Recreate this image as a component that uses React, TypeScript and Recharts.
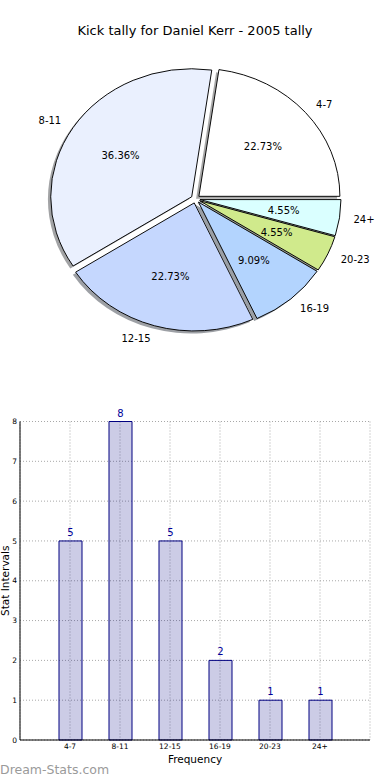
import React from 'react';
import { PieChart, Pie, Cell, BarChart, Bar, XAxis, YAxis, CartesianGrid, LabelList } from 'recharts';

const categories = ['4-7', '8-11', '12-15', '16-19', '20-23', '24+'];
const tally = [5, 8, 5, 2, 1, 1];
const yTicks = [0, 1, 2, 3, 4, 5, 6, 7, 8];
const sliceColors = ['#ffffff', '#eaf0fe', '#c5d7fe', '#b3d4fe', '#d0ea8c', '#daffff'];

const pieData = categories.map((name, i) => ({ name, value: tally[i] }));
const barData = categories.map((name, i) => ({ name, value: tally[i] }));

const total = tally.reduce((a, b) => a + b, 0);
const midAngles = (() => {
  let acc = 0;
  return tally.map((v) => {
    const s = acc;
    acc += v;
    return ((s + v / 2) / total) * 360;
  });
})();

const FONT = 'DejaVu Sans';
const PIE_CX = 195.5;
const PIE_CY = 199;
const R = 141;
const K = 0.908;
const EXPLODE = 4.5;
const SHADOW = 2.8;
const RAD = Math.PI / 180;

function shade(hex: string) {
  const n = parseInt(hex.slice(1), 16);
  const r = Math.round(((n >> 16) & 255) * 0.3);
  const g = Math.round(((n >> 8) & 255) * 0.3);
  const b = Math.round((n & 255) * 0.3);
  return `rgb(${r},${g},${b})`;
}

function centerFor(i: number) {
  const m = midAngles[i] * RAD;
  return { cx: PIE_CX + EXPLODE * Math.cos(m), cy: PIE_CY - EXPLODE * Math.sin(m) };
}

function makeLabel(i: number) {
  return (props: any) => {
    if (props.index !== i) return null;
    const c = centerFor(i);
    const cx = typeof props.cx === 'number' ? props.cx : c.cx;
    const cy = typeof props.cy === 'number' ? props.cy : c.cy;
    const mid = (typeof props.midAngle === 'number' ? props.midAngle : midAngles[i]) * RAD;
    const cos = Math.cos(mid);
    const sin = Math.sin(mid);
    const ox = cx + 1.1 * R * cos;
    const oy = cy - 1.1 * R * sin;
    const px = cx + 0.6 * R * cos;
    const py = cy - 0.6 * R * sin;
    const pct = ((tally[i] / total) * 100).toFixed(2) + '%';
    return (
      <g>
        <text
          transform={`translate(${ox},${oy}) scale(1,${1 / K})`}
          x={0}
          y={0}
          textAnchor={cos >= 0 ? 'start' : 'end'}
          dominantBaseline="central"
          fontSize={10}
          fontFamily={FONT}
          fill="#000"
        >
          {categories[i]}
        </text>
        <text
          transform={`translate(${px},${py}) scale(1,${1 / K})`}
          x={0}
          y={0}
          textAnchor="middle"
          dominantBaseline="central"
          fontSize={10}
          fontFamily={FONT}
          fill="#000"
        >
          {pct}
        </text>
      </g>
    );
  };
}

export default function App() {
  return (
    <div style={{ position: 'absolute', left: 0, top: 0, width: 390, height: 780, background: '#fff', overflow: 'hidden' }}>
      <svg width={390} height={780} style={{ position: 'absolute', left: 0, top: 0 }}>
        <text x={195} y={35} textAnchor="middle" fontSize={13} fontFamily={FONT} fill="#000">
          Kick tally for Daniel Kerr - 2005 tally
        </text>
        <text x={0} y={774} fontSize={12.5} fontFamily={FONT} fill="#9a9a9a">
          Dream-Stats.com
        </text>
      </svg>

      <div
        style={{
          position: 'absolute',
          left: 0,
          top: 0,
          width: 390,
          height: 400,
          transform: `scaleY(${K})`,
          transformOrigin: `${PIE_CX}px ${PIE_CY}px`,
        }}
      >
        <PieChart width={390} height={400} margin={{ top: 0, right: 0, bottom: 0, left: 0 }}>
          {categories.map((_, i) => {
            const c = centerFor(i);
            return (
              <Pie
                key={`shadow-${i}`}
                data={pieData}
                dataKey="value"
                nameKey="name"
                cx={c.cx - SHADOW}
                cy={c.cy + SHADOW}
                innerRadius={0}
                outerRadius={R}
                startAngle={0}
                endAngle={360}
                isAnimationActive={false}
                labelLine={false}
                stroke="none"
              >
                {pieData.map((_, j) => (
                  <Cell
                    key={j}
                    fill={j === i ? shade(sliceColors[i]) : 'none'}
                    fillOpacity={0.5}
                    stroke="none"
                  />
                ))}
              </Pie>
            );
          })}
          {categories.map((_, i) => {
            const c = centerFor(i);
            return (
              <Pie
                key={`slice-${i}`}
                data={pieData}
                dataKey="value"
                nameKey="name"
                cx={c.cx}
                cy={c.cy}
                innerRadius={0}
                outerRadius={R}
                startAngle={0}
                endAngle={360}
                isAnimationActive={false}
                labelLine={false}
                label={makeLabel(i)}
                stroke="none"
              >
                {pieData.map((_, j) => (
                  <Cell
                    key={j}
                    fill={j === i ? sliceColors[i] : 'none'}
                    stroke={j === i ? '#000' : 'none'}
                    strokeWidth={1}
                  />
                ))}
              </Pie>
            );
          })}
        </PieChart>
      </div>

      <div style={{ position: 'absolute', left: 0, top: 400, width: 390, height: 380 }}>
        <BarChart width={390} height={380} data={barData} margin={{ top: 21.5, right: 20, bottom: 10, left: 0 }}>
          <CartesianGrid stroke="#a8a8a8" strokeDasharray="1 2" />
          <XAxis
            dataKey="name"
            padding={{ left: 25, right: 25 }}
            height={30}
            interval={0}
            tickLine={false}
            tickSize={4}
            tickMargin={0}
            axisLine={{ stroke: '#000', strokeWidth: 1 }}
            tick={{ fontSize: 7.5, fill: '#000', fontFamily: FONT }}
            label={{ value: 'Frequency', position: 'insideBottom', offset: 7, fill: '#000', fontSize: 10.5, fontFamily: FONT }}
          />
          <XAxis
            xAxisId="top"
            orientation="top"
            dataKey="name"
            padding={{ left: 25, right: 25 }}
            height={0}
            tick={false}
            tickLine={false}
            axisLine={{ stroke: '#000', strokeWidth: 1 }}
          />
          <YAxis
            type="number"
            domain={[0, 8]}
            ticks={yTicks}
            width={20}
            tickLine={false}
            tickSize={0}
            tickMargin={3}
            axisLine={{ stroke: '#000', strokeWidth: 1 }}
            tick={{ fontSize: 7.5, fill: '#000', fontFamily: FONT }}
            label={{
              content: (p: any) => {
                const vb = p && p.viewBox ? p.viewBox : null;
                const cy = vb ? vb.y + vb.height / 2 : 180.75;
                return (
                  <text
                    transform={`translate(9,${cy}) rotate(-90)`}
                    x={0}
                    y={0}
                    textAnchor="middle"
                    fontSize={10.5}
                    fontFamily={FONT}
                    fill="#000"
                  >
                    Stat Intervals
                  </text>
                );
              },
            }}
          />
          <YAxis
            yAxisId="right"
            orientation="right"
            type="number"
            domain={[0, 8]}
            ticks={yTicks}
            width={0}
            tick={false}
            tickLine={false}
            axisLine={{ stroke: '#000', strokeWidth: 1 }}
          />
          <Bar
            dataKey="value"
            fill="#000080"
            fillOpacity={0.2}
            stroke="#000080"
            strokeWidth={1}
            barSize={23}
            isAnimationActive={false}
          >
            <LabelList dataKey="value" position="top" offset={5} fill="#000099" fontSize={10} fontFamily={FONT} />
          </Bar>
        </BarChart>
      </div>
    </div>
  );
}
